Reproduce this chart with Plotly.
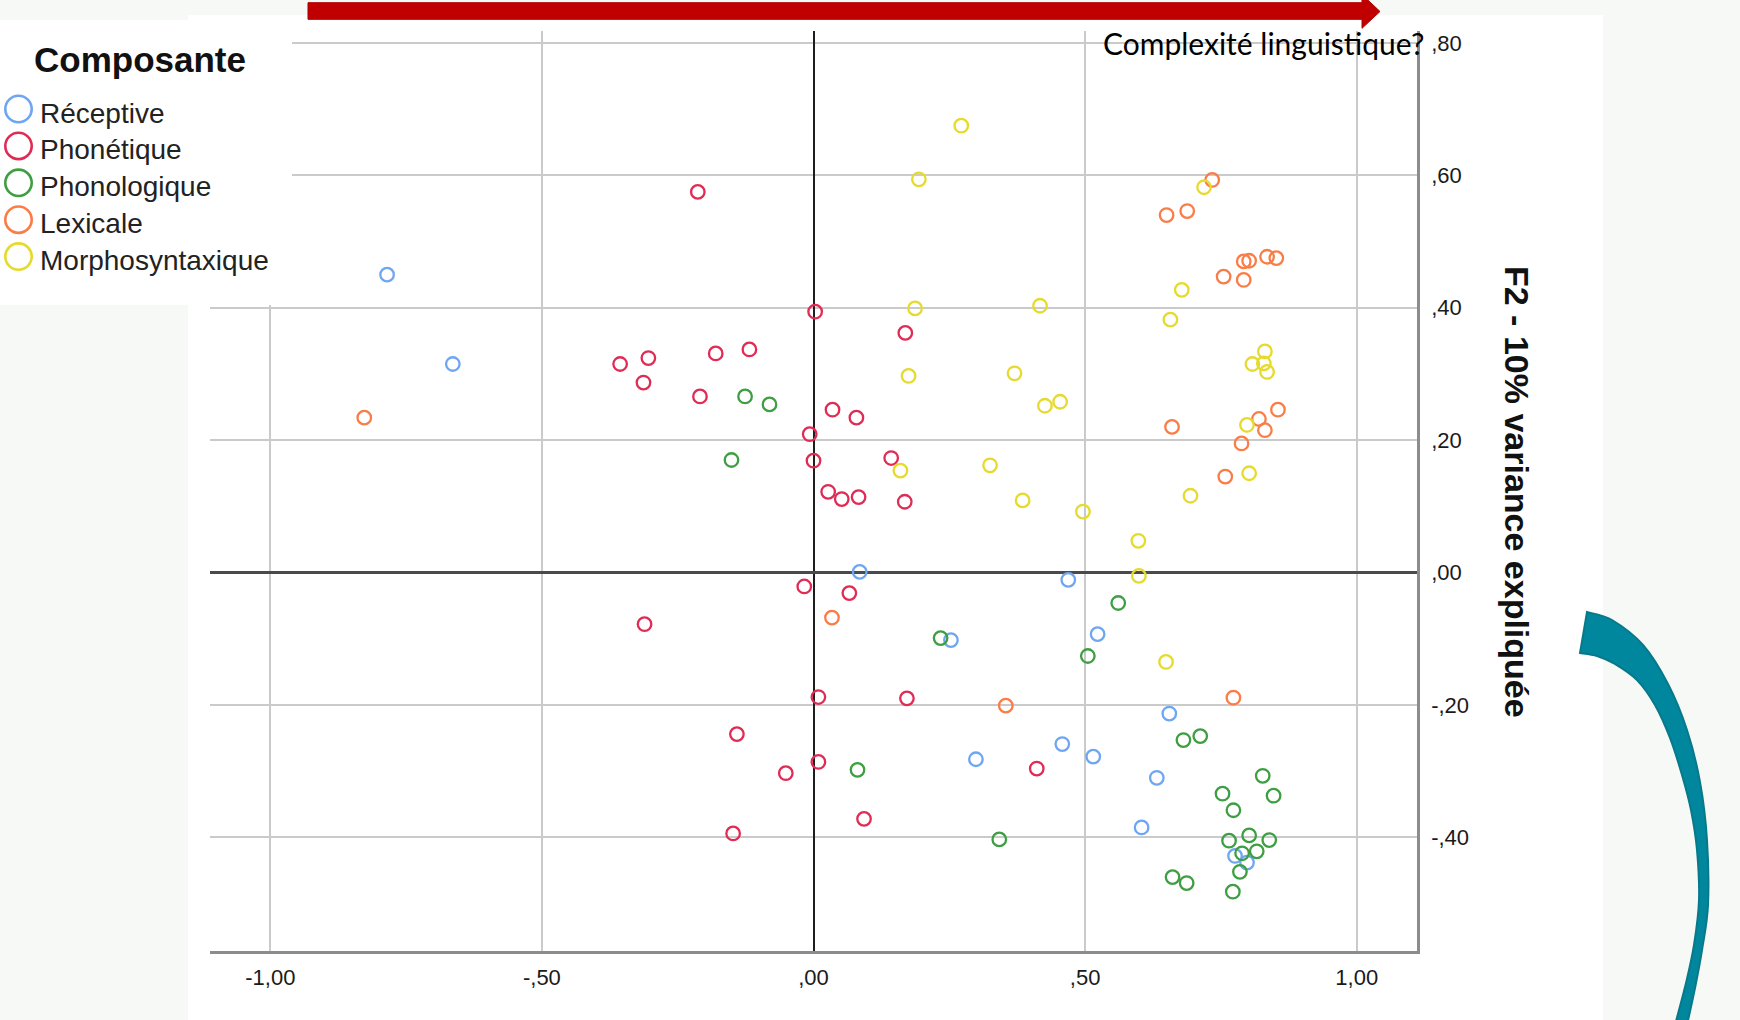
import plotly.graph_objects as go

W, H = 1740, 1020

# ---------------- data ----------------
categories = ["Réceptive", "Phonétique", "Phonologique", "Lexicale", "Morphosyntaxique"]
colors = ["#6EA6F2", "#E02B55", "#3E9E42", "#FA7D48", "#E6DA2C"]

x_receptive = [-0.785, -0.664, 0.085, 0.469, 0.523, 0.253, 0.655, 0.299, 0.458, 0.515, 0.632, 0.604, 0.776, 0.798]
y_receptive = [0.450, 0.315, 0.001, -0.011, -0.093, -0.102, -0.213, -0.282, -0.259, -0.278, -0.310, -0.385, -0.428, -0.438]

x_phonetique = [-0.213, 0.003, 0.169, -0.356, -0.304, -0.180, -0.118, -0.313, -0.209, 0.035, 0.079, -0.007, 0.000, 0.143,
                0.027, 0.052, 0.083, 0.168, -0.017, 0.066, -0.311, 0.009, 0.172, -0.141, 0.009, -0.051, 0.411, 0.093, -0.148]
y_phonetique = [0.575, 0.394, 0.362, 0.315, 0.324, 0.331, 0.337, 0.287, 0.266, 0.246, 0.234, 0.209, 0.169, 0.173,
                0.122, 0.111, 0.114, 0.107, -0.021, -0.031, -0.078, -0.188, -0.190, -0.244, -0.286, -0.303, -0.296, -0.372, -0.394]

x_phonologique = [-0.126, -0.081, -0.151, 0.561, 0.234, 0.505, 0.712, 0.681, 0.081, 0.827, 0.753, 0.847, 0.773, 0.342,
                  0.765, 0.802, 0.839, 0.789, 0.816, 0.785, 0.661, 0.687, 0.772]
y_phonologique = [0.266, 0.254, 0.170, -0.046, -0.099, -0.126, -0.247, -0.253, -0.298, -0.307, -0.334, -0.337, -0.359, -0.403,
                  -0.405, -0.397, -0.404, -0.424, -0.421, -0.452, -0.460, -0.469, -0.482]

x_lexicale = [-0.827, 0.034, 0.354, 0.773, 0.734, 0.650, 0.688, 0.792, 0.802, 0.835, 0.852, 0.755, 0.792, 0.660,
              0.855, 0.820, 0.831, 0.788, 0.758]
y_lexicale = [0.234, -0.068, -0.201, -0.189, 0.593, 0.540, 0.546, 0.470, 0.471, 0.477, 0.475, 0.447, 0.442, 0.220,
              0.246, 0.232, 0.215, 0.195, 0.145]

x_morpho = [0.272, 0.194, 0.719, 0.187, 0.417, 0.678, 0.657, 0.831, 0.808, 0.829, 0.835, 0.175, 0.370, 0.426, 0.454,
            0.798, 0.160, 0.325, 0.802, 0.385, 0.694, 0.496, 0.598, 0.599, 0.649]
y_morpho = [0.675, 0.594, 0.582, 0.399, 0.403, 0.427, 0.382, 0.334, 0.315, 0.316, 0.303, 0.297, 0.301, 0.252, 0.258,
            0.223, 0.154, 0.162, 0.150, 0.109, 0.116, 0.092, 0.048, -0.005, -0.135]

x_tickvals = [-1.0, -0.5, 0.0, 0.5, 1.0]
x_ticktext = ["-1,00", "-,50", ",00", ",50", "1,00"]
y_tickvals = [-0.4, -0.2, 0.0, 0.2, 0.4, 0.6, 0.8]
y_ticktext = ["-,40", "-,20", ",00", ",20", ",40", ",60", ",80"]

legend_title = "Composante"
y_title = "F2 - 10% variance expliquée"
arrow_label = "Complexité linguistique?"

series_x = [x_receptive, x_phonetique, x_phonologique, x_lexicale, x_morpho]
series_y = [y_receptive, y_phonetique, y_phonologique, y_lexicale, y_morpho]

# ---------------- helpers (pixel -> paper) ----------------
def px(x):
    return x / W

def py(y):
    return 1 - y / H

def smooth_path(curves):
    """Each curve is a list of pixel points; joined with cubic Catmull-Rom segments."""
    parts = []
    first = True
    for pts in curves:
        n = len(pts)
        for i in range(n):
            if i == 0:
                cmd = "M" if first else "L"
                parts.append(f"{cmd} {px(pts[0][0]):.5f},{py(pts[0][1]):.5f}")
                first = False
                continue
            p0 = pts[max(i - 2, 0)]
            p1 = pts[i - 1]
            p2 = pts[i]
            p3 = pts[min(i + 1, n - 1)]
            c1 = (p1[0] + (p2[0] - p0[0]) / 6, p1[1] + (p2[1] - p0[1]) / 6)
            c2 = (p2[0] - (p3[0] - p1[0]) / 6, p2[1] - (p3[1] - p1[1]) / 6)
            parts.append(f"C {px(c1[0]):.5f},{py(c1[1]):.5f} {px(c2[0]):.5f},{py(c2[1]):.5f} "
                         f"{px(p2[0]):.5f},{py(p2[1]):.5f}")
    return " ".join(parts) + " Z"

def path(points):
    return "M " + " L ".join(f"{px(a):.5f},{py(b):.5f}" for a, b in points) + " Z"

BG = "#F7F9F7"
FONT = "Liberation Sans, Arial, sans-serif"

fig = go.Figure()
for name, col, xs, ys in zip(categories, colors, series_x, series_y):
    fig.add_trace(go.Scatter(
        x=xs, y=ys, mode="markers", name=name, showlegend=False,
        marker=dict(symbol="circle-open", size=13.5, color=col, line=dict(width=2.3, color=col)),
    ))

shapes = []
# white chart picture area
shapes.append(dict(type="rect", xref="paper", yref="paper", layer="below",
                   x0=px(188), x1=px(1603), y0=py(1020), y1=py(15),
                   fillcolor="white", line=dict(width=0)))
# legend box (covers top-left of the plot)
shapes.append(dict(type="rect", xref="paper", yref="paper", layer="above",
                   x0=px(0), x1=px(292), y0=py(305), y1=py(20),
                   fillcolor="white", line=dict(width=0)))
# legend circles
for i, col in enumerate(colors):
    cy = 109 + 36.9 * i
    r = 13.2
    shapes.append(dict(type="circle", xref="paper", yref="paper", layer="above",
                       x0=px(18.5 - r), x1=px(18.5 + r), y0=py(cy + r), y1=py(cy - r),
                       fillcolor="rgba(0,0,0,0)", line=dict(color=col, width=2.6)))
# red arrow on top
red_pts = [(308, 2.7), (1362, 2.7), (1362, -5.5), (1380, 11.5), (1362, 28.3), (1362, 19.3), (308, 19.3)]
shapes.append(dict(type="path", xref="paper", yref="paper", layer="above",
                   path=path(red_pts), fillcolor="#C00000", line=dict(color="#B00000", width=1)))
# teal curved arrow on the right
outer = [(1587, 612), (1612, 620), (1643, 645), (1668, 684), (1687, 730), (1700, 782), (1707, 840),
         (1708, 905), (1702, 950), (1695, 988), (1687, 1025)]
inner = [(1675, 1025), (1686, 983), (1694, 945), (1699, 900), (1697, 850), (1691, 810),
         (1682, 775), (1670, 738), (1655, 705), (1637, 680), (1615, 664), (1597, 656), (1580, 653)]
shapes.append(dict(type="path", xref="paper", yref="paper", layer="above",
                   path=smooth_path([outer, inner]), fillcolor="#00879D",
                   line=dict(color="#07798B", width=2)))

annotations = []
annotations.append(dict(xref="paper", yref="paper", x=px(140), y=py(59), text=f"<b>{legend_title}</b>",
                        showarrow=False, xanchor="center", yanchor="middle",
                        font=dict(family=FONT, size=35, color="#111111")))
for i, name in enumerate(categories):
    cy = 109 + 36.9 * i + 4
    annotations.append(dict(xref="paper", yref="paper", x=px(38), y=py(cy), text=name,
                            showarrow=False, xanchor="left", yanchor="middle",
                            font=dict(family=FONT, size=28, color="#222222")))
annotations.append(dict(xref="paper", yref="paper", x=px(1517), y=py(492), text=f"<b>{y_title}</b>",
                        showarrow=False, textangle=90, xanchor="center", yanchor="middle",
                        font=dict(family=FONT, size=34, color="#111111")))
annotations.append(dict(xref="paper", yref="paper", x=px(1101), y=py(43), text=arrow_label,
                        showarrow=False, xanchor="left", yanchor="middle",
                        font=dict(family="Lato, Carlito, sans-serif", size=30, color="#000000")))

fig.update_layout(
    width=W, height=H, margin=dict(l=0, r=0, t=0, b=0),
    paper_bgcolor=BG, plot_bgcolor="white",
    showlegend=False,
    shapes=shapes, annotations=annotations,
    xaxis=dict(domain=[px(210), px(1417)], range=[-1.111, 1.111],
               tickvals=x_tickvals, ticktext=x_ticktext,
               showgrid=True, gridcolor="#CACACA", gridwidth=2,
               zeroline=True, zerolinecolor="#1E1E1E", zerolinewidth=2,
               showline=True, linecolor="#8C8C8C", linewidth=2.5,
               ticks="outside", ticklen=5, tickcolor="rgba(0,0,0,0)",
               tickfont=dict(family=FONT, size=22, color="#1A1A1A")),
    yaxis=dict(domain=[py(951), py(31)], range=[-0.5716, 0.818], side="right",
               tickvals=y_tickvals, ticktext=y_ticktext,
               showgrid=True, gridcolor="#CACACA", gridwidth=2,
               zeroline=True, zerolinecolor="#4A4A4A", zerolinewidth=3,
               showline=True, linecolor="#8C8C8C", linewidth=2.5,
               ticks="outside", ticklen=7, tickcolor="rgba(0,0,0,0)",
               tickfont=dict(family=FONT, size=22, color="#1A1A1A")),
)

fig.write_html("out.html", config={"displayModeBar": False},
               post_script="document.body.style.margin='0';document.body.style.overflow='hidden';")
